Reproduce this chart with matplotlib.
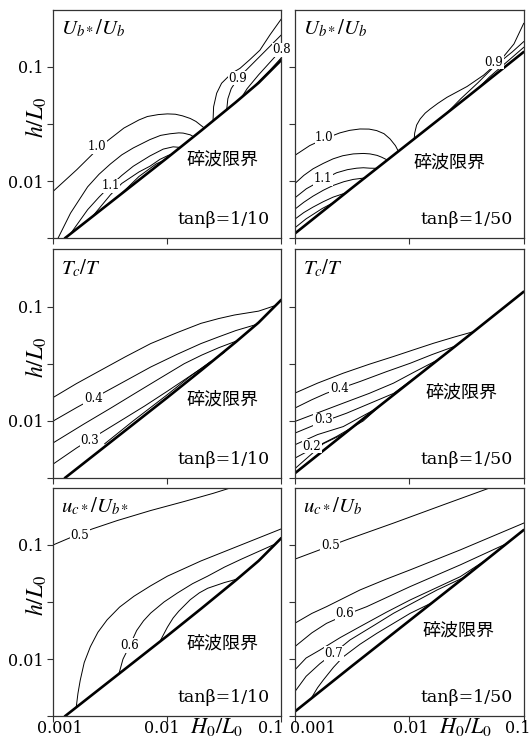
import numpy as np
import matplotlib.pyplot as plt

plt.rcParams['mathtext.fontset'] = 'stix'
SERIF = 'DejaVu Serif'
CJK = ['Noto Sans CJK JP', 'DejaVu Sans']

# all curve values are log10(H0/L0), log10(h/L0)

# breaking limit lines
brk10_lx = [-2.90, -2.60, -2.30, -2.00, -1.70, -1.40, -1.20, -1.00]
brk10_ly = [-2.50, -2.265, -2.03, -1.795, -1.555, -1.31, -1.14, -0.94]
brk50_lx = [-3.00, -2.50, -2.00, -1.50, -1.00]
brk50_ly = [-2.46, -2.06, -1.665, -1.27, -0.87]

# Ub*/Ub, tan=1/10
ub10_curves = [
    ([-3.0, -2.794, -2.588, -2.382, -2.25, -2.176, -2.08, -2.0, -1.93, -1.868, -1.80, -1.75, -1.676],
     [-2.087, -1.899, -1.696, -1.536, -1.465, -1.435, -1.418, -1.412, -1.415, -1.429, -1.452, -1.478, -1.536]),
    ([-2.96, -2.90, -2.85, -2.70, -2.60, -2.50, -2.40, -2.30, -2.154, -2.06, -1.978, -1.90, -1.862, -1.80, -1.77],
     [-2.50, -2.38, -2.28, -2.05, -1.94, -1.85, -1.77, -1.71, -1.637, -1.60, -1.586, -1.578, -1.58, -1.595, -1.612]),
    ([-2.85, -2.70, -2.60, -2.50, -2.40, -2.30, -2.154, -2.037, -1.95, -1.89],
     [-2.46, -2.25, -2.14, -2.04, -1.95, -1.87, -1.78, -1.72, -1.70, -1.705]),
    ([-2.65, -2.50, -2.40, -2.25, -2.154, -2.066, -1.993, -1.96],
     [-2.30, -2.12, -2.02, -1.92, -1.87, -1.81, -1.775, -1.763]),
    ([-2.40, -2.25, -2.10, -2.03],
     [-2.105, -1.96, -1.85, -1.818]),
    ([-1.60, -1.595, -1.568, -1.525, -1.437, -1.364, -1.28, -1.189, -1.10, -1.0],
     [-1.473, -1.35, -1.231, -1.144, -1.057, -1.014, -0.94, -0.855, -0.72, -0.58]),
    ([-1.48, -1.47, -1.44, -1.38, -1.30, -1.20, -1.10, -1.0],
     [-1.375, -1.28, -1.19, -1.10, -1.02, -0.92, -0.82, -0.72]),
    ([-1.35, -1.30, -1.20, -1.10, -1.0],
     [-1.268, -1.19, -1.07, -0.96, -0.85]),
    ([-1.25, -1.20, -1.10, -1.0],
     [-1.185, -1.13, -1.03, -0.92]),
]
ub10_labels = [('1.0', -2.62, -1.70), ('1.1', -2.50, -2.04),
               ('0.9', -1.38, -1.10), ('0.8', -1.0, -0.85)]

# Ub*/Ub, tan=1/50
ub50_curves = [
    ([-3.0, -2.868, -2.74, -2.605, -2.52, -2.43, -2.35, -2.284, -2.22, -2.167, -2.12, -2.094],
     [-1.776, -1.689, -1.63, -1.578, -1.556, -1.544, -1.545, -1.558, -1.585, -1.631, -1.69, -1.74]),
    ([-3.0, -2.92, -2.839, -2.75, -2.664, -2.58, -2.488, -2.40, -2.342, -2.28, -2.24, -2.19],
     [-2.023, -1.95, -1.892, -1.845, -1.805, -1.778, -1.762, -1.758, -1.762, -1.775, -1.791, -1.816]),
    ([-3.0, -2.898, -2.76, -2.634, -2.54, -2.459, -2.40, -2.342, -2.28],
     [-2.148, -2.067, -1.99, -1.927, -1.90, -1.887, -1.883, -1.887, -1.888]),
    ([-3.0, -2.92, -2.839, -2.75, -2.664, -2.57, -2.488, -2.386],
     [-2.247, -2.185, -2.131, -2.08, -2.038, -2.005, -1.985, -1.972]),
    ([-3.0, -2.92, -2.839, -2.75, -2.664, -2.55],
     [-2.334, -2.275, -2.227, -2.18, -2.14, -2.102]),
    ([-3.0, -2.9, -2.76, -2.65],
     [-2.41, -2.33, -2.24, -2.182]),
    ([-1.956, -1.952, -1.935, -1.904, -1.86, -1.816, -1.75, -1.67, -1.494, -1.35, -1.2, -1.085, -1.0],
     [-1.63, -1.58, -1.51, -1.456, -1.405, -1.369, -1.32, -1.267, -1.172, -1.073, -0.94, -0.80, -0.62]),
    ([-1.67, -1.55, -1.40, -1.26, -1.10, -1.0],
     [-1.403, -1.28, -1.14, -1.00, -0.87, -0.78]),
    ([-1.40, -1.30, -1.15, -1.0],
     [-1.19, -1.09, -0.96, -0.83]),
]
ub50_labels = [('1.0', -2.74, -1.62), ('1.1', -2.75, -1.98), ('0.9', -1.26, -0.96)]

# Tc/T, tan=1/10
tc10_curves = [
    ([-3.0, -2.80, -2.588, -2.37, -2.147, -1.92, -1.706, -1.55, -1.412, -1.20, -1.05],
     [-1.794, -1.675, -1.559, -1.44, -1.324, -1.23, -1.147, -1.105, -1.074, -1.04, -0.99]),
    ([-3.0, -2.794, -2.471, -2.147, -1.92, -1.706, -1.55, -1.40, -1.22],
     [-2.0, -1.882, -1.706, -1.529, -1.42, -1.324, -1.265, -1.21, -1.157]),
    ([-3.0, -2.735, -2.50, -2.294, -2.07, -1.853, -1.70, -1.55, -1.38],
     [-2.191, -2.029, -1.89, -1.765, -1.63, -1.50, -1.425, -1.36, -1.296]),
    ([-3.0, -2.794, -2.60, -2.412, -2.20, -2.0, -1.85, -1.70, -1.50],
     [-2.376, -2.235, -2.115, -2.0, -1.87, -1.74, -1.64, -1.54, -1.40]),
    ([-2.55, -2.3, -2.0, -1.8, -1.62],
     [-2.20, -2.0, -1.77, -1.61, -1.48]),
]
tc10_labels = [('0.4', -2.65, -1.80), ('0.3', -2.68, -2.17)]

# Tc/T, tan=1/50
tc50_curves = [
    ([-3.0, -2.80, -2.576, -2.35, -2.137, -1.96, -1.787, -1.60, -1.44],
     [-1.758, -1.67, -1.583, -1.505, -1.437, -1.378, -1.321, -1.265, -1.22]),
    ([-3.0, -2.85, -2.722, -2.43, -2.20, -1.991, -1.80, -1.60],
     [-1.889, -1.815, -1.758, -1.656, -1.57, -1.496, -1.42, -1.347]),
    ([-3.0, -2.80, -2.576, -2.35, -2.137, -1.95, -1.75],
     [-2.006, -1.93, -1.845, -1.76, -1.67, -1.57, -1.466]),
    ([-3.0, -2.80, -2.547, -2.35, -2.137, -1.90],
     [-2.108, -2.025, -1.933, -1.85, -1.76, -1.585]),
    ([-3.0, -2.80, -2.576, -2.30, -2.05],
     [-2.21, -2.12, -2.05, -1.90, -1.705]),
    ([-3.0, -2.80, -2.635, -2.40, -2.25],
     [-2.327, -2.22, -2.137, -2.0, -1.864]),
    ([-3.0, -2.75, -2.55],
     [-2.42, -2.2, -2.102]),
]
tc50_labels = [('0.4', -2.61, -1.72), ('0.3', -2.75, -1.99), ('0.2', -2.85, -2.22)]

# uc*/Ub*, tan=1/10
uc10_curves = [
    ([-3.0, -2.868, -2.662, -2.441, -2.147, -1.853, -1.60, -1.44],
     [-1.0, -0.944, -0.862, -0.788, -0.70, -0.621, -0.55, -0.5]),
    ([-2.80, -2.785, -2.765, -2.73, -2.676, -2.61, -2.529, -2.42, -2.294, -2.15, -2.0, -1.706, -1.412, -1.0],
     [-2.42, -2.30, -2.185, -2.03, -1.891, -1.765, -1.656, -1.545, -1.45, -1.36, -1.274, -1.141, -1.024, -0.86]),
    ([-2.426, -2.39, -2.33, -2.27, -2.21, -2.147, -2.03, -1.912, -1.78, -1.647, -1.50, -1.353, -1.07],
     [-2.13, -2.0, -1.88, -1.75, -1.665, -1.597, -1.50, -1.421, -1.34, -1.274, -1.195, -1.126, -1.0]),
    ([-2.06, -2.0, -1.95, -1.90, -1.80, -1.72, -1.647, -1.50, -1.39],
     [-1.834, -1.72, -1.64, -1.58, -1.48, -1.42, -1.38, -1.33, -1.30]),
]
uc10_labels = [('0.5', -2.77, -0.92), ('0.6', -2.33, -1.88)]

# uc*/Ub, tan=1/50
uc50_curves = [
    ([-3.0, -2.547, -2.137, -1.699, -1.29],
     [-1.126, -0.956, -0.81, -0.649, -0.5]),
    ([-3.0, -2.85, -2.722, -2.43, -2.20, -1.991, -1.553, -1.0],
     [-1.687, -1.60, -1.541, -1.395, -1.30, -1.219, -1.044, -0.81]),
    ([-3.0, -2.85, -2.722, -2.55, -2.371, -1.991, -1.553, -1.14],
     [-1.892, -1.77, -1.687, -1.61, -1.541, -1.365, -1.175, -0.985]),
    ([-3.0, -2.90, -2.781, -2.60, -2.43, -2.20, -1.991, -1.553, -1.33],
     [-2.096, -1.99, -1.921, -1.81, -1.716, -1.59, -1.482, -1.278, -1.132]),
    ([-3.0, -2.90, -2.78, -2.65, -2.518, -2.30, -2.137, -1.757, -1.52],
     [-2.287, -2.15, -2.04, -1.94, -1.833, -1.70, -1.599, -1.395, -1.284]),
    ([-2.86, -2.80, -2.751, -2.66, -2.576, -2.43, -2.284, -1.991, -1.80],
     [-2.35, -2.25, -2.184, -2.07, -1.98, -1.87, -1.775, -1.599, -1.506]),
]
uc50_labels = [('0.5', -2.69, -1.01), ('0.6', -2.56, -1.60), ('0.7', -2.66, -1.95)]

titles = [r'$U_{b*}/U_b$', r'$U_{b*}/U_b$', r'$T_c/T$', r'$T_c/T$',
          r'$u_{c*}/U_{b*}$', r'$u_{c*}/U_b$']
slopes = ['tanβ=1/10', 'tanβ=1/50']
xtick_vals = [1e-3, 1e-2, 1e-1]
xtick_text = ['0.001', '0.01', '0.1']

fig = plt.figure(figsize=(5.29, 7.40), dpi=100)
lefts = [0.101, 0.557]
widths = [0.431, 0.433]
bottoms = [0.678, 0.354, 0.032]
height = 0.309
xtick_shift = [[4.3, -4.3, -8.0], [13.0, 1.4, -4.3]]
xlab_pos = [10 ** -1.57, 10 ** -1.507]

panels = [
    (ub10_curves, ub10_labels, (0.74, 0.345)),
    (ub50_curves, ub50_labels, (0.675, 0.33)),
    (tc10_curves, tc10_labels, (0.74, 0.345)),
    (tc50_curves, tc50_labels, (0.73, 0.375)),
    (uc10_curves, uc10_labels, (0.74, 0.32)),
    (uc50_curves, uc50_labels, (0.714, 0.377)),
]

for i, (curves, labels, brk_pos) in enumerate(panels):
    row, col = divmod(i, 2)
    ax = fig.add_axes([lefts[col], bottoms[row], widths[col], height])
    ax.set_xscale('log')
    ax.set_yscale('log')
    for lx, ly in curves:
        ax.plot(10 ** np.array(lx), 10 ** np.array(ly), color='black', lw=0.7)
    if col == 0:
        bx, by = brk10_lx, brk10_ly
    else:
        bx, by = brk50_lx, brk50_ly
    ax.plot(10 ** np.array(bx), 10 ** np.array(by), color='black', lw=1.9,
            solid_capstyle='round')
    for s, lx, ly in labels:
        ax.text(10 ** lx, 10 ** ly, s, ha='center', va='center', fontsize=8.5,
                family=SERIF, zorder=6, clip_on=False,
                bbox=dict(fc='white', ec='none', pad=0.4))
    ax.set_xlim(1e-3, 1e-1)
    ax.set_ylim(10 ** -2.5, 10 ** -0.5)
    ax.minorticks_off()
    ax.set_xticks(xtick_vals)
    ax.set_xticklabels([])
    ax.set_yticks([10 ** -2.5, 1e-2, 10 ** -1.5, 1e-1])
    if col == 0:
        ax.set_yticklabels(['', '0.01', '', '0.1'], family=SERIF, fontsize=11.5)
        ax.text(-0.075, 0.53, r'$h/L_0$', transform=ax.transAxes, rotation=90,
                ha='center', va='center', fontsize=17)
    else:
        ax.set_yticklabels([])
    ax.tick_params(direction='out', length=4, width=0.8, color='#333333', pad=3)
    for sp in ax.spines.values():
        sp.set_linewidth(0.9)
        sp.set_color('#333333')

    ax.text(0.035, 0.965, titles[i], transform=ax.transAxes, ha='left', va='top',
            fontsize=15)
    ax.text(brk_pos[0], brk_pos[1], '碎波限界', transform=ax.transAxes,
            ha='center', va='center', fontsize=13, family=CJK)
    ax.text(0.95, 0.045, slopes[col], transform=ax.transAxes, ha='right',
            va='bottom', fontsize=12.5, family=SERIF)

    if row == 2:
        for val, s, dx in zip(xtick_vals, xtick_text, xtick_shift[col]):
            ax.annotate(s, xy=(val, 0), xycoords=('data', 'axes fraction'),
                        xytext=(dx, -3), textcoords='offset points',
                        ha='center', va='top', family=SERIF, fontsize=11.5)
        ax.annotate(r'$H_0/L_0$', xy=(xlab_pos[col], 7),
                    xycoords=('data', 'figure pixels'),
                    ha='center', va='baseline', fontsize=16)

fig.savefig('out.png', dpi=100)
